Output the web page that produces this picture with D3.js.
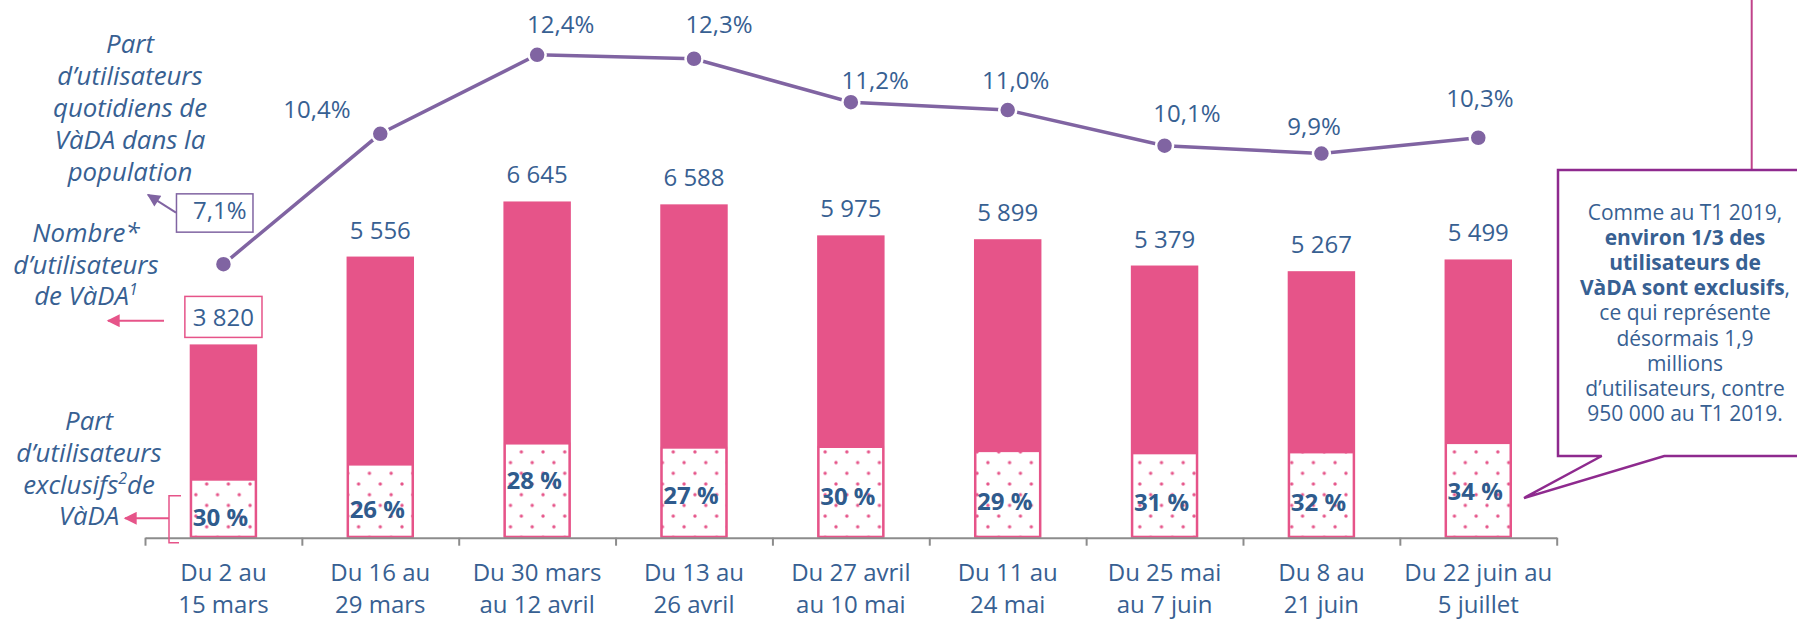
<!DOCTYPE html>
<html><head><meta charset="utf-8">
<script src="https://cdn.jsdelivr.net/npm/d3@7"></script>
<style>
html,body{margin:0;padding:0;background:#fff;}
svg{display:block;font-family:"Open Sans",sans-serif;}
</style></head><body>
<svg id="chart" width="1797" height="620"></svg>
<script>
// ---------- DATA ----------
const periodLine1 = ["Du 2 au","Du 16 au","Du 30 mars","Du 13 au","Du 27 avril","Du 11 au","Du 25 mai","Du 8 au","Du 22 juin au"];
const periodLine2 = ["15 mars","29 mars","au 12 avril","26 avril","au 10 mai","24 mai","au 7 juin","21 juin","5 juillet"];
const users = [3820, 5556, 6645, 6588, 5975, 5899, 5379, 5267, 5499];          // nombre d'utilisateurs (milliers)
const dailyShare = [7.1, 10.4, 12.4, 12.3, 11.2, 11.0, 10.1, 9.9, 10.3];       // % utilisateurs quotidiens
const exclusiveShare = [30, 26, 28, 27, 30, 29, 31, 32, 34];                    // % utilisateurs exclusifs
const calloutLines = [
  [["Comme au T1 2019,", false]],
  [["environ 1/3 des", true]],
  [["utilisateurs de", true]],
  [["VàDA sont exclusifs", true], [",", false]],
  [["ce qui représente", false]],
  [["désormais 1,9", false]],
  [["millions", false]],
  [["d’utilisateurs, contre", false]],
  [["950 000 au T1 2019.", false]]
];

// ---------- STYLE ----------
const BLUE = "#376092", BOLDBLUE = "#2f5b8d", PINK = "#e65489", PURPLE = "#8064a2",
      CALLOUT = "#8e2a8e", VLINE = "#c0428a", AXIS = "#8c8c8c";

const fr = d3.formatLocale({decimal: ",", thousands: " ", grouping: [3], currency: ["", " €"]});
const fmtUsers = fr.format(",d");
const fmtPct = fr.format(".1f");

const svg = d3.select("#chart");
const defs = svg.append("defs");

const pat = defs.append("pattern").attr("id", "dots").attr("patternUnits", "userSpaceOnUse")
  .attr("width", 21.7).attr("height", 21.4).attr("x", 11.4).attr("y", 13.2);
pat.append("rect").attr("width", 21.7).attr("height", 21.4).attr("fill", "#fff");
[[0,0],[21.7,0],[0,21.4],[21.7,21.4],[10.85,10.7]].forEach(p =>
  pat.append("circle").attr("cx", p[0]).attr("cy", p[1]).attr("r", 1.7).attr("fill", PINK));

function marker(id, color) {
  defs.append("marker").attr("id", id).attr("viewBox", "0 0 10 10").attr("refX", 9).attr("refY", 5)
    .attr("markerWidth", 16).attr("markerHeight", 13).attr("markerUnits", "userSpaceOnUse")
    .attr("orient", "auto").append("path").attr("d", "M0,0L10,5L0,10Z").attr("fill", color);
}
marker("arrPink", PINK);
marker("arrPurple", PURPLE);

// ---------- SCALES ----------
const idx = d3.range(users.length);
const x = d3.scaleBand().domain(idx).range([145, 1556.7]).padding(0);
const xEdge = d3.scaleLinear().domain([0, users.length]).range([145, 1556.7]);
const bw = x.bandwidth() * 0.43;
const cx = i => x(i) + x.bandwidth() / 2;
const yBar = d3.scaleLinear().domain([0, 10000]).range([537.7, 31.7]);
const yLine = d3.scaleLinear().domain([0, 13]).range([544.6, 31.1]);

// ---------- BARS ----------
const bars = svg.append("g");
bars.selectAll("rect.total").data(users).join("rect").attr("class", "total")
  .attr("x", (d, i) => cx(i) - bw / 2).attr("width", bw)
  .attr("y", d => yBar(d)).attr("height", d => yBar(0) - yBar(d))
  .attr("fill", PINK);
bars.selectAll("rect.excl").data(users).join("rect").attr("class", "excl")
  .attr("x", (d, i) => cx(i) - bw / 2 + 1.5).attr("width", bw - 3)
  .attr("y", (d, i) => yBar(d * exclusiveShare[i] / 100))
  .attr("height", (d, i) => yBar(0) - yBar(d * exclusiveShare[i] / 100) - 1)
  .attr("fill", "url(#dots)").attr("stroke", PINK).attr("stroke-width", 2);

// percent labels inside pattern area (manual nudges as in the original)
const pctNudge = [9, 8, -10, 3, 4, 6.5, 6.5, 7, 1];
svg.append("g").selectAll("text").data(exclusiveShare).join("text")
  .attr("x", (d, i) => cx(i) - 3)
  .attr("y", (d, i) => {
    const top = yBar(users[i] * d / 100), mid = (top + yBar(0)) / 2;
    return mid + pctNudge[i] + 8.6;
  })
  .attr("text-anchor", "middle").attr("font-size", 24).attr("font-weight", 700)
  .attr("fill", BOLDBLUE).text(d => d + " %");

// bar value labels
const barLbl = svg.append("g").selectAll("text").data(users).join("text")
  .attr("x", (d, i) => cx(i)).attr("y", d => yBar(d) - 18)
  .attr("text-anchor", "middle").attr("font-size", 24).attr("fill", BLUE)
  .text(d => fmtUsers(d));
{
  const n = barLbl.nodes()[0], b = n.getBBox();
  const by = yBar(users[0]) - 18;
  svg.append("rect").attr("x", b.x - 8).attr("y", by - 30).attr("width", b.width + 16).attr("height", 41)
    .attr("fill", "none").attr("stroke", PINK).attr("stroke-width", 1.5);
}

// ---------- AXIS ----------
const axis = svg.append("g").attr("transform", `translate(0,${yBar(0)})`)
  .call(d3.axisBottom(xEdge).tickValues(d3.range(users.length + 1)).tickSize(8).tickSizeOuter(0).tickFormat(""));
axis.select(".domain").attr("stroke", AXIS).attr("stroke-width", 2);
axis.selectAll(".tick line").attr("stroke", AXIS).attr("stroke-width", 2);

const cat = svg.append("g").selectAll("text").data(idx).join("text")
  .attr("text-anchor", "middle").attr("font-size", 24).attr("fill", BLUE);
cat.append("tspan").attr("x", i => cx(i)).attr("y", 581).text(i => periodLine1[i]);
cat.append("tspan").attr("x", i => cx(i)).attr("y", 613).text(i => periodLine2[i]);

// ---------- LINE ----------
const line = d3.line().x((d, i) => cx(i)).y(d => yLine(d));
svg.append("path").datum(dailyShare).attr("d", line).attr("fill", "none")
  .attr("stroke", PURPLE).attr("stroke-width", 3.5);
svg.append("g").selectAll("circle").data(dailyShare).join("circle")
  .attr("cx", (d, i) => cx(i)).attr("cy", d => yLine(d)).attr("r", 8.5)
  .attr("fill", PURPLE).attr("stroke", "#fff").attr("stroke-width", 2.5);

const lineNudge = [[-3.7, -45], [-63.3, -16], [23.5, -21.5], [25, -25.4], [24.3, -13.2], [8, -21.1], [22.4, -23.4], [-7.4, -18.6], [1.6, -30.5]];
const lineLbl = svg.append("g").selectAll("text").data(dailyShare).join("text")
  .attr("x", (d, i) => cx(i) + lineNudge[i][0]).attr("y", (d, i) => yLine(d) + lineNudge[i][1])
  .attr("text-anchor", "middle").attr("font-size", 24).attr("fill", BLUE)
  .text(d => fmtPct(d) + "%");
{
  const n = lineLbl.nodes()[0], b = n.getBBox();
  const by = yLine(dailyShare[0]) + lineNudge[0][1];
  svg.append("rect").attr("x", b.x - 16.5).attr("y", by - 25.3).attr("width", b.width + 23).attr("height", 38.3)
    .attr("fill", "none").attr("stroke", PURPLE).attr("stroke-width", 1.5);
}

// ---------- LEFT ANNOTATIONS ----------
const ann = svg.append("g").attr("font-size", 25.8).attr("font-style", "italic").attr("fill", BLUE).attr("text-anchor", "middle");
function block(lines, xc, y0) {
  const t = ann.append("text");
  lines.forEach((ln, k) => {
    const first = t.append("tspan").attr("x", xc).attr("y", y0 + k * 31.8);
    ln.forEach((seg, j) => {
      const s = j === 0 ? first : t.append("tspan");
      s.text(seg[0]);
      if (seg[1]) s.attr("font-size", 16).attr("dy", -10);
      else if (j > 0 && ln[j - 1][1]) s.attr("dy", 10);
    });
  });
}
block([[["Part"]], [["d’utilisateurs"]], [["quotidiens de"]], [["VàDA dans la"]], [["population"]]], 130, 53.3);
block([[["Nombre*"]], [["d’utilisateurs"]], [["de VàDA"], ["1", true]]], 86, 241.7);
block([[["Part"]], [["d’utilisateurs"]], [["exclusifs"], ["2", true], ["de"]], [["VàDA"]]], 89, 430);

// arrows
svg.append("line").attr("x1", 176).attr("y1", 212.7).attr("x2", 148).attr("y2", 194.8)
  .attr("stroke", PURPLE).attr("stroke-width", 2).attr("marker-end", "url(#arrPurple)");
svg.append("line").attr("x1", 164).attr("y1", 320.7).attr("x2", 108).attr("y2", 320.7)
  .attr("stroke", PINK).attr("stroke-width", 2).attr("marker-end", "url(#arrPink)");
svg.append("path").attr("d", "M181,495.7H169V542.7H179").attr("fill", "none").attr("stroke", PINK).attr("stroke-width", 1.5);
svg.append("line").attr("x1", 169).attr("y1", 518.3).attr("x2", 125).attr("y2", 518.3)
  .attr("stroke", PINK).attr("stroke-width", 2).attr("marker-end", "url(#arrPink)");

// ---------- CALLOUT ----------
svg.append("line").attr("x1", 1751.7).attr("y1", 0).attr("x2", 1751.7).attr("y2", 170)
  .attr("stroke", VLINE).attr("stroke-width", 2);
svg.append("path").attr("d", "M1558,170H1805V456H1664.3L1524,498L1601.7,456H1558Z")
  .attr("fill", "#fff").attr("stroke", CALLOUT).attr("stroke-width", 2.5).attr("stroke-linejoin", "miter");
const ct = svg.append("text").attr("font-size", 21).attr("fill", BLUE).attr("text-anchor", "middle");
calloutLines.forEach((ln, k) => {
  const first = ct.append("tspan").attr("x", 1685).attr("y", 219.5 + k * 25.2);
  ln.forEach((seg, j) => {
    const s = j === 0 ? first : ct.append("tspan");
    s.text(seg[0]).attr("font-weight", seg[1] ? 700 : 400);
  });
});
</script>
</body></html>
